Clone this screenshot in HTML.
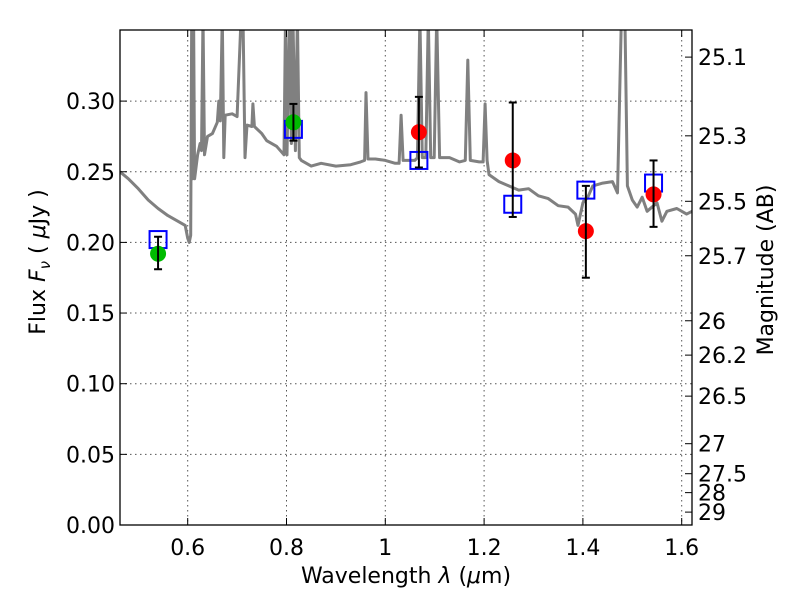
<!DOCTYPE html>
<html><head><meta charset="utf-8"><style>
body{margin:0;background:#fff;}
svg text{font-family:"DejaVu Sans","Liberation Sans",sans-serif;fill:#000;}
</style></head><body>
<svg id="chart" width="800" height="600" viewBox="0 0 800 600" xmlns="http://www.w3.org/2000/svg">
<rect width="800" height="600" fill="#fff"/>
<g id="grid"></g>
<g id="spec"></g>
<g id="pts"></g>
<rect x="120" y="30" width="572" height="495" fill="none" stroke="#000" stroke-width="1.3"/>
<g id="axes"></g>
<text x="406" y="583" font-size="22" text-anchor="middle">Wavelength  <tspan font-style="italic">λ</tspan> (<tspan font-style="italic">μ</tspan>m)</text>
<text transform="translate(45,262) rotate(-90)" font-size="22" text-anchor="middle">Flux  <tspan font-style="italic">F<tspan font-size="15" dy="5">ν</tspan></tspan><tspan dy="-5">  (  </tspan><tspan font-style="italic">μ</tspan>Jy )</text>
<text transform="translate(773,270) rotate(-90)" font-size="22" text-anchor="middle">Magnitude (AB)</text>
</svg>
<script>
const xTicks=[0.6,0.8,1.0,1.2,1.4,1.6];
const xTickLabels=["0.6","0.8","1","1.2","1.4","1.6"];
const yTicks=[0,0.05,0.10,0.15,0.20,0.25,0.30];
const yTickLabels=["0.00","0.05","0.10","0.15","0.20","0.25","0.30"];
const magTicks=[25.1,25.3,25.5,25.7,26,26.2,26.5,27,27.5,28,29];
const magTickLabels=["25.1","25.3","25.5","25.7","26","26.2","26.5","27","27.5","28","29"];
const specWave=[0.463,0.48,0.50,0.52,0.54,0.56,0.58,0.595,0.600,0.603,0.606,0.608,0.610,0.612,0.614,0.620,0.625,0.628,0.631,0.634,0.640,0.65,0.66,0.663,0.666,0.670,0.673,0.676,0.69,0.70,0.708,0.712,0.716,0.72,0.73,0.732,0.735,0.75,0.76,0.78,0.795,0.798,0.801,0.806,0.81,0.813,0.818,0.822,0.826,0.83,0.85,0.87,0.90,0.93,0.95,0.958,0.961,0.965,0.98,1.00,1.02,1.028,1.032,1.036,1.06,1.065,1.07,1.075,1.082,1.087,1.092,1.099,1.104,1.11,1.13,1.15,1.162,1.167,1.172,1.19,1.198,1.202,1.206,1.21,1.23,1.25,1.27,1.29,1.31,1.33,1.35,1.37,1.385,1.39,1.40,1.41,1.42,1.44,1.46,1.47,1.478,1.485,1.49,1.50,1.51,1.52,1.53,1.55,1.56,1.57,1.59,1.61,1.621];
const specFlux=[0.250,0.245,0.238,0.230,0.224,0.219,0.215,0.212,0.203,0.200,0.205,0.36,0.245,0.36,0.245,0.262,0.270,0.265,0.36,0.262,0.275,0.277,0.285,0.300,0.286,0.36,0.260,0.290,0.291,0.289,0.36,0.36,0.26,0.283,0.282,0.298,0.282,0.277,0.272,0.268,0.262,0.36,0.262,0.36,0.27,0.36,0.265,0.36,0.26,0.258,0.254,0.256,0.254,0.255,0.257,0.258,0.306,0.259,0.259,0.258,0.256,0.256,0.290,0.258,0.258,0.26,0.36,0.26,0.26,0.36,0.26,0.26,0.36,0.26,0.26,0.257,0.258,0.329,0.258,0.257,0.257,0.298,0.258,0.248,0.243,0.240,0.237,0.238,0.233,0.231,0.226,0.225,0.220,0.212,0.228,0.232,0.240,0.242,0.243,0.235,0.36,0.36,0.240,0.230,0.225,0.232,0.222,0.228,0.215,0.222,0.224,0.220,0.222];
const photWave=[0.54,0.814,1.068,1.258,1.406,1.543];
const photFlux=[0.192,0.285,0.278,0.258,0.208,0.234];
const photErrLo=[0.181,0.272,0.253,0.218,0.175,0.211];
const photErrHi=[0.204,0.298,0.303,0.299,0.240,0.258];
const photColor=["#00bb00","#00bb00","#ff0000","#ff0000","#ff0000","#ff0000"];
const modelFlux=[0.202,0.280,0.258,0.227,0.237,0.242];

const X=l=>187.7+(l-0.6)*494;
const Y=f=>525-f*1413;
const NS="http://www.w3.org/2000/svg";
function mk(tag,attrs,parent){const e=document.createElementNS(NS,tag);for(const k in attrs)e.setAttribute(k,attrs[k]);parent.appendChild(e);return e;}
const grid=document.getElementById('grid'),axes=document.getElementById('axes'),spec=document.getElementById('spec'),pts=document.getElementById('pts');
xTicks.forEach((t,i)=>{const x=X(t);
 const g=mk('line',{x1:x,x2:x,y1:30,y2:525,stroke:'#555','stroke-width':1,'stroke-dasharray':'1.5,3.5'},grid);
 
 mk('line',{x1:x,x2:x,y1:525,y2:518,stroke:'#000'},axes);mk('line',{x1:x,x2:x,y1:30,y2:37,stroke:'#000'},axes);
 const tx=mk('text',{x:x,y:555,'font-size':22,'text-anchor':'middle'},axes);tx.textContent=xTickLabels[i];
 });
yTicks.forEach((t,i)=>{const y=Y(t);
 if(t>0){const g=mk('line',{x1:120,x2:692,y1:y,y2:y,stroke:'#555','stroke-width':1,'stroke-dasharray':'1.5,3.5'},grid);
 }
 mk('line',{x1:120,x2:127,y1:y,y2:y,stroke:'#000'},axes);
 const tx=mk('text',{x:115,y:y+8,'font-size':22,'text-anchor':'end'},axes);tx.textContent=yTickLabels[i];
 });
magTicks.forEach((m,i)=>{const y=Y(Math.pow(10,(23.9-m)/2.5));
 mk('line',{x1:685,x2:692,y1:y,y2:y,stroke:'#000'},axes);
 const tx=mk('text',{x:698,y:y+8,'font-size':22},axes);tx.textContent=magTickLabels[i];
 });
const cp=mk('clipPath',{id:'clip'},spec);mk('rect',{x:120,y:30,width:572,height:495},cp);
const d=specWave.map((l,i)=>(i?'L':'M')+X(l).toFixed(1)+','+Y(specFlux[i]).toFixed(1)).join('');
const sp=mk('path',{d:d,fill:'none',stroke:'#808080','stroke-width':3,'stroke-linejoin':'round','clip-path':'url(#clip)'},spec);

photWave.forEach((l,i)=>{const x=X(l);
 const b=mk('rect',{x:x-8.5,y:Y(modelFlux[i])-8.5,width:17,height:17,fill:'none',stroke:'#0000ff','stroke-width':2},pts);
 
 const c=mk('circle',{cx:x,cy:Y(photFlux[i]),r:8,fill:photColor[i]},pts);
 
 const g=mk('g',{stroke:'#000','stroke-width':2},pts);
 
 mk('line',{x1:x,x2:x,y1:Y(photErrLo[i]),y2:Y(photErrHi[i])},g);
 mk('line',{x1:x-4,x2:x+4,y1:Y(photErrLo[i]),y2:Y(photErrLo[i])},g);
 mk('line',{x1:x-4,x2:x+4,y1:Y(photErrHi[i]),y2:Y(photErrHi[i])},g);});
</script>
</body></html>
